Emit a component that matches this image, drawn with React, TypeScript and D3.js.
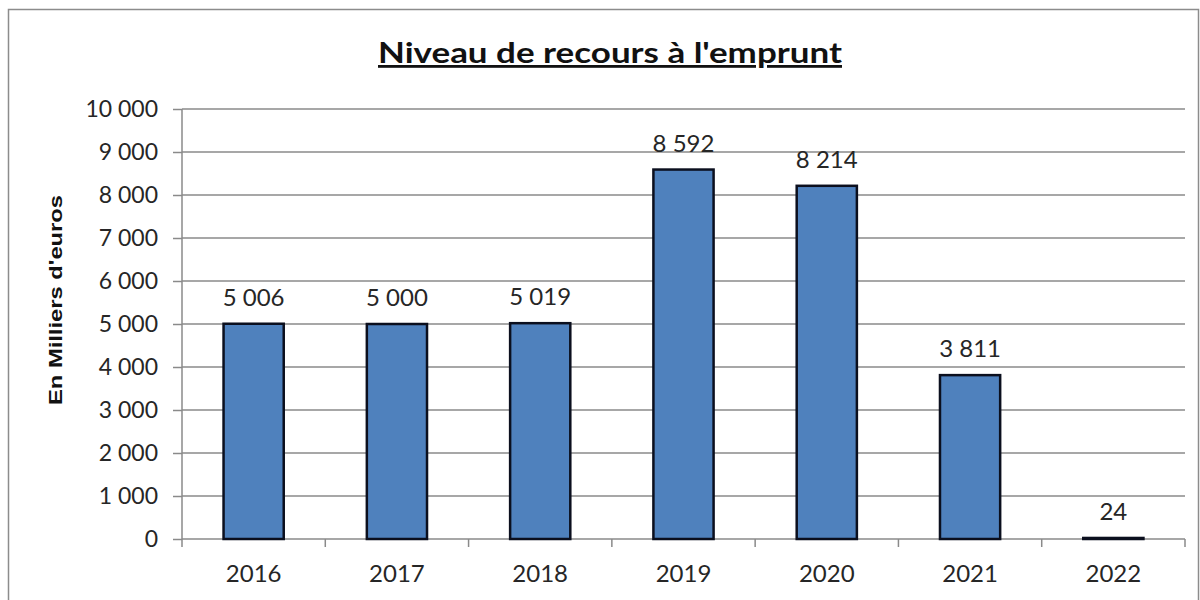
import React, {useEffect, useRef} from "react";
import * as d3 from "d3";

const years = ["2016", "2017", "2018", "2019", "2020", "2021", "2022"];
const amounts = [5006, 5000, 5019, 8592, 8214, 3811, 24];
const yTicks = [0, 1000, 2000, 3000, 4000, 5000, 6000, 7000, 8000, 9000, 10000];

const title = "Niveau de recours à l'emprunt";
const yTitle = "En Milliers d'euros";

const W = 1200;
const H = 600;
const margin = {top: 109, right: 15, bottom: 61, left: 182};

const fr = d3.formatLocale({decimal: ",", thousands: "\u00a0", grouping: [3], currency: ["", " €"]});
const fmt = fr.format(",d");

const App = () => {
    const ref = useRef<SVGSVGElement>(null);

    useEffect(() => {
        const svg = d3.select(ref.current);
        svg.selectAll("*").remove();

        const x = d3.scaleBand().domain(years).range([margin.left, W - margin.right]).paddingInner(0).paddingOuter(0);
        const y = d3.scaleLinear().domain([0, 10000]).range([H - margin.bottom, margin.top]);
        const font = "Lato, 'Open Sans', sans-serif";
        const grey = "#8a8a8a";
        const ink = "#262626";

        // outer frame
        svg.append("rect")
            .attr("x", 8.5).attr("y", 9.5)
            .attr("width", W - 10).attr("height", H)
            .attr("fill", "#fff").attr("stroke", "#8c8c8c").attr("stroke-width", 1.5);

        // gridlines
        svg.append("g").selectAll("line").data(yTicks.filter(d => d > 0)).join("line")
            .attr("x1", margin.left).attr("x2", W - margin.right)
            .attr("y1", d => y(d)).attr("y2", d => y(d))
            .attr("stroke", grey).attr("stroke-width", 1.5);

        // y axis
        const yAxis = svg.append("g")
            .attr("transform", `translate(${margin.left},0)`)
            .call(d3.axisLeft(y).tickValues(yTicks).tickSize(9).tickPadding(15).tickFormat(d => fmt(d as number)));
        yAxis.selectAll("line, path").attr("stroke", grey).attr("stroke-width", 1.5);
        yAxis.select(".domain").attr("d", `M0,${y(10000)}V${y(0)}`);
        yAxis.selectAll("text").attr("font-family", font).attr("font-size", 23).attr("fill", ink);

        // x axis line
        svg.append("line")
            .attr("x1", margin.left).attr("x2", W - margin.right)
            .attr("y1", y(0)).attr("y2", y(0))
            .attr("stroke", grey).attr("stroke-width", 1.5);

        // tick marks at category boundaries
        const bounds = years.map(d => x(d) as number).concat([W - margin.right]);
        svg.append("g").selectAll("line").data(bounds).join("line")
            .attr("x1", d => d).attr("x2", d => d)
            .attr("y1", y(0)).attr("y2", y(0) + 8)
            .attr("stroke", grey).attr("stroke-width", 1.5);

        // x labels
        svg.append("g").selectAll("text").data(years).join("text")
            .attr("x", d => (x(d) as number) + x.bandwidth() / 2)
            .attr("y", y(0) + 43)
            .attr("text-anchor", "middle")
            .attr("font-family", font).attr("font-size", 24).attr("fill", ink)
            .text(d => d);

        // bars
        const bw = x.bandwidth() * 0.42;
        svg.append("g").selectAll("rect").data(amounts).join("rect")
            .attr("x", (d, i) => (x(years[i]) as number) + x.bandwidth() / 2 - bw / 2)
            .attr("y", d => y(d))
            .attr("width", bw)
            .attr("height", d => y(0) - y(d))
            .attr("fill", "#4f81bd")
            .attr("stroke", "#0b0f1e").attr("stroke-width", 2.5);

        // value labels
        svg.append("g").selectAll("text").data(amounts).join("text")
            .attr("x", (d, i) => (x(years[i]) as number) + x.bandwidth() / 2)
            .attr("y", d => y(d) - 18)
            .attr("text-anchor", "middle")
            .attr("font-family", font).attr("font-size", 24).attr("fill", ink)
            .text(d => fmt(d));

        // title
        svg.append("text")
            .attr("x", 378).attr("y", 63)
            .attr("textLength", 464).attr("lengthAdjust", "spacingAndGlyphs")
            .attr("font-family", font).attr("font-size", 28).attr("font-weight", "bold")
            .attr("text-decoration", "underline").attr("fill", "#111")
            .text(title);

        // y title
        svg.append("text")
            .attr("transform", `translate(62,405) rotate(-90)`)
            .attr("textLength", 210).attr("lengthAdjust", "spacingAndGlyphs")
            .attr("font-family", "'Liberation Sans', Arial, sans-serif").attr("font-size", 18.5).attr("font-weight", "bold")
            .attr("fill", "#111")
            .text(yTitle);
    }, []);

    return (
        <div style={{position: "absolute", left: 0, top: 0}}>
            <svg ref={ref} width={W} height={H} style={{display: "block"}}/>
        </div>
    );
};

export default App;
